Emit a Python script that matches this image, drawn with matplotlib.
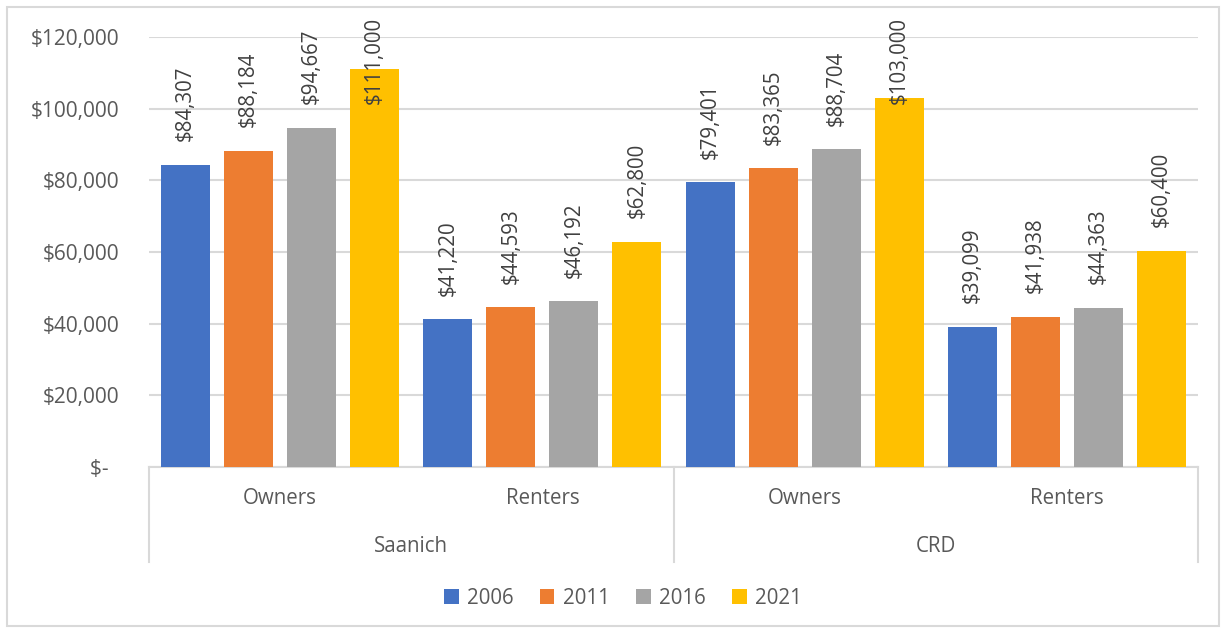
import numpy as np
import matplotlib
matplotlib.use("Agg")
import matplotlib.pyplot as plt
from matplotlib.patches import Rectangle

# data
groups = ["Saanich", "CRD"]
tenures = ["Owners", "Renters", "Owners", "Renters"]
years = ["2006", "2011", "2016", "2021"]
v2006 = [84307, 41220, 79401, 39099]
v2011 = [88184, 44593, 83365, 41938]
v2016 = [94667, 46192, 88704, 44363]
v2021 = [111000, 62800, 103000, 60400]
colors = ["#4472C4", "#ED7D31", "#A5A5A5", "#FFC000"]
yticks = [0, 20000, 40000, 60000, 80000, 100000, 120000]

plt.rcParams.update({"font.family": ["Open Sans", "DejaVu Sans"], "font.size": 14})
TXT = "#595959"
GRID = "#D9D9D9"

W, H = 1226, 633
fig = plt.figure(figsize=(W / 100, H / 100), dpi=100)
ax = fig.add_axes([149 / W, 1 - 467 / H, (1198 - 149) / W, (467 - 37) / H])

x = np.arange(len(tenures))
step, bw = 0.24, 0.187
series = [v2006, v2011, v2016, v2021]
anns = []
for i, (vals, c, yr) in enumerate(zip(series, colors, years)):
    xs = x + (i - 1.5) * step
    ax.bar(xs, vals, width=bw, color=c, label=yr, zorder=3)
    for xi, v in zip(xs, vals):
        a = ax.annotate(f"${v:,}", xy=(xi, v), xytext=(0, 17), textcoords="offset points",
                        rotation=90, ha="center", va="bottom", color="#404040",
                        fontsize=14.8, annotation_clip=False, zorder=4)
        anns.append(a)

ax.set_xlim(-0.5, len(tenures) - 0.5)
ax.set_ylim(0, 120000)
ax.set_yticks(yticks)
ax.set_yticklabels(["$-  " if t == 0 else f"${t:,}" for t in yticks], color=TXT, fontsize=15)
ax.tick_params(axis="y", length=0, pad=21)
ax.set_xticks([])
ax.grid(axis="y", color=GRID, lw=1.5, zorder=0)
for s in ["top", "right", "left"]:
    ax.spines[s].set_visible(False)
ax.spines["bottom"].set_color(GRID)
ax.spines["bottom"].set_linewidth(1.5)

# multi-level category axis
tr = ax.get_xaxis_transform()
for xi, t in zip(x, tenures):
    ax.text(xi, -0.074, t, transform=tr, ha="center", va="center", color=TXT, fontsize=14.8)
for gi, g in enumerate(groups):
    ax.text(2 * gi + 0.5, -0.186, g, transform=tr, ha="center", va="center", color=TXT, fontsize=14.8)
for d in [-0.5, 1.5, 3.5]:
    ax.plot([d, d], [0, -0.221], transform=tr, color=GRID, lw=1.5, clip_on=False)

fig.legend(loc="center", bbox_to_anchor=(623 / W, 1 - 598 / H), ncol=4, frameon=False,
           handlelength=0.7, handleheight=0.7, handletextpad=0.4, columnspacing=1.3,
           fontsize=14.8, labelcolor=TXT)

fig.patches.append(Rectangle((7 / W, 7 / H), (W - 14) / W, (H - 14) / H, transform=fig.transFigure,
                             fill=False, edgecolor=GRID, lw=1.5))

# push labels that would overflow the chart area back down
fig.canvas.draw()
limit = H - 17
for a in anns:
    bb = a.get_window_extent()
    if bb.y1 > limit:
        ox, oy = a.xyann
        a.xyann = (ox, oy + (limit - bb.y1) * 72 / 100)

fig.savefig("out.png", dpi=100)
